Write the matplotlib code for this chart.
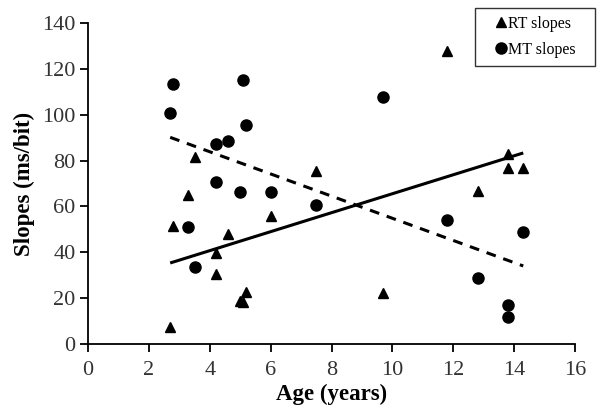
import matplotlib
matplotlib.use("Agg")
import matplotlib.pyplot as plt

# RT slopes (triangles)
rt_age = [2.7, 2.8, 3.3, 3.5, 4.2, 4.2, 4.6, 5.0, 5.1, 5.2, 6.0, 7.5, 9.7, 11.8, 12.8, 13.8, 13.8, 14.3]
rt_slope = [7.7, 51.6, 65.0, 81.7, 39.6, 30.6, 48.0, 18.7, 18.3, 22.6, 55.9, 75.4, 22.3, 127.7, 66.7, 82.7, 76.6, 76.6]

# MT slopes (circles)
mt_age = [2.7, 2.8, 3.3, 3.5, 4.2, 4.2, 4.6, 5.0, 5.1, 5.2, 6.0, 7.5, 9.7, 11.8, 12.8, 13.8, 13.8, 14.3]
mt_slope = [100.6, 113.3, 51.2, 33.6, 87.2, 70.5, 88.5, 66.3, 114.9, 95.6, 66.3, 60.8, 107.7, 54.1, 28.9, 17.1, 12.0, 48.8]

# Trend lines (endpoints)
trend_x = [2.7, 14.3]
rt_trend = [35.4, 83.3]
mt_trend = [90.1, 34.1]

xticks = [0, 2, 4, 6, 8, 10, 12, 14, 16]
yticks = [0, 20, 40, 60, 80, 100, 120, 140]

plt.rcParams['font.family'] = ['Liberation Serif', 'DejaVu Serif']

fig = plt.figure(figsize=(6.04, 4.17), dpi=100)
ax = fig.add_axes([88/604, 1 - 344.3/417, (575-88)/604, (344.3-22.7)/417])

ax.plot(rt_age, rt_slope, linestyle='none', marker='^', color='black', markersize=7.5, label='RT slopes', clip_on=False)
ax.plot(mt_age, mt_slope, linestyle='none', marker='o', color='black', markersize=8, label='MT slopes', clip_on=False)
ax.plot(trend_x, rt_trend, color='black', linewidth=2.2, solid_capstyle='butt')
ax.plot(trend_x, mt_trend, color='black', linewidth=2.2, linestyle=(0, (3.2, 2.6)), dash_capstyle='butt')

ax.set_xlim(0, 16)
ax.set_ylim(0, 140)
ax.set_xticks(xticks)
ax.set_yticks(yticks)
ax.spines['top'].set_visible(False)
ax.spines['right'].set_visible(False)
for s in ['left', 'bottom']:
    ax.spines[s].set_linewidth(1.3)
ax.tick_params(direction='out', length=6, width=1.3, labelsize=16, colors='black')
ax.tick_params(axis='x', pad=6)
ax.tick_params(axis='y', pad=3)
for lab in ax.get_xticklabels() + ax.get_yticklabels():
    lab.set_color('#333333')

ax.set_xlabel('Age (years)', fontsize=16.5, fontweight='bold', labelpad=3)
ax.set_ylabel('Slopes (ms/bit)', fontsize=16.5, fontweight='bold', labelpad=5)

w = 487.0
h = 321.6
leg = ax.legend(loc='upper left',
                bbox_to_anchor=((475-88)/w, (344.3-62)/h, (595-475)/w, 54/h),
                mode='expand', fontsize=11.5, frameon=True, fancybox=False, handlelength=2.2,
                handletextpad=-0.65, borderpad=0.5, labelspacing=0.6, borderaxespad=0)
leg.get_frame().set_edgecolor('black')
leg.get_frame().set_linewidth(1.0)

fig.savefig('out.png', dpi=100)
